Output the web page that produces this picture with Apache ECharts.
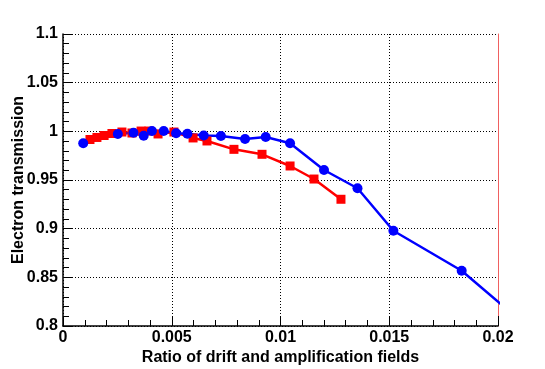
<!DOCTYPE html>
<html>
<head>
<meta charset="utf-8">
<script src="https://cdn.jsdelivr.net/npm/echarts@6/dist/echarts.min.js"></script>
<style>
html,body{margin:0;padding:0;background:#fff;}
#chart{width:545px;height:369px;}
</style>
</head>
<body>
<div id="chart"></div>
<script>
// red squares
const redX = [0.00124,0.00156,0.00189,0.00225,0.00271,0.00317,0.00359,0.00395,0.00437,0.0051,0.00598,0.00662,0.00786,0.00915,0.01044,0.01154,0.01278];
const redY = [0.9916,0.9937,0.9957,0.9978,0.9993,0.9983,1.0003,1.0003,0.9973,0.9993,0.9932,0.9901,0.9815,0.9764,0.9644,0.951,0.9302];
// blue circles (last point lies past the frame and gets clipped)
const blueX = [0.00093,0.00252,0.00324,0.00371,0.00409,0.00463,0.0052,0.00572,0.00647,0.00726,0.00837,0.00932,0.01044,0.0120,0.01354,0.01519,0.01833,0.0210];
const blueY = [0.9877,0.9973,0.9986,0.9955,1.0003,1.0003,0.998,0.9976,0.9957,0.9952,0.9921,0.9942,0.9877,0.9603,0.9415,0.8979,0.8568,0.806];

(function(){
    const zip = (xs, ys) => xs.map((x, i) => [x, ys[i]]);
    const font = {fontFamily:'Liberation Sans', fontWeight:'bold', color:'#000'};
    let myChart = echarts.init(document.getElementById('chart'));
    let options = {
        animation:false,
        grid:{left:63, right:47, top:34, bottom:43, containLabel:false, outerBoundsMode:'none'},
        xAxis:{
            type:'value', min:0, max:0.02, interval:0.005,
            name:'Ratio of drift and amplification fields',
            nameLocation:'middle', nameGap:24, nameMoveOverlap:false,
            nameTextStyle:Object.assign({fontSize:16}, font),
            axisLine:{show:true, onZero:false, lineStyle:{color:'#000', width:1.5}},
            axisTick:{show:true, inside:true, length:10, lineStyle:{color:'#000'}},
            minorTick:{show:true, splitNumber:5, length:6, lineStyle:{color:'#000', width:1}},
            axisLabel:Object.assign({fontSize:16, margin:4, showMaxLabel:true}, font),
            splitLine:{show:true, lineStyle:{type:[1,2], color:'#000', width:1}}
        },
        yAxis:[{
            type:'value', min:0.8, max:1.1, interval:0.05,
            name:'Electron transmission',
            nameLocation:'middle', nameGap:36, nameMoveOverlap:false,
            nameTextStyle:Object.assign({fontSize:16}, font),
            axisLine:{show:true, onZero:false, lineStyle:{color:'#000', width:1.5}},
            axisTick:{show:true, inside:true, length:10, lineStyle:{color:'#000'}},
            minorTick:{show:true, splitNumber:5, length:6, lineStyle:{color:'#000', width:1}},
            axisLabel:Object.assign({fontSize:16, margin:5}, font),
            splitLine:{show:true, lineStyle:{type:[1,2], color:'#000', width:1}}
        },{
            type:'value', min:0.8, max:1.1, position:'right',
            axisLine:{show:true, onZero:false, lineStyle:{color:'#f06060', width:1}},
            axisTick:{show:false}, axisLabel:{show:false}, splitLine:{show:false}
        }],
        series:[{
            name:'red',
            type:'line',
            data:zip(redX, redY),
            symbol:'rect', symbolSize:9,
            itemStyle:{color:'#ff0000'},
            lineStyle:{color:'#ff0000', width:2.5},
            clip:true
        },{
            name:'blue',
            type:'line',
            data:zip(blueX, blueY),
            symbol:'circle', symbolSize:10,
            itemStyle:{color:'#0000ff'},
            lineStyle:{color:'#0000ff', width:2.5},
            clip:true
        }]
    };
    myChart.setOption(options);
})();
</script>
</body>
</html>
